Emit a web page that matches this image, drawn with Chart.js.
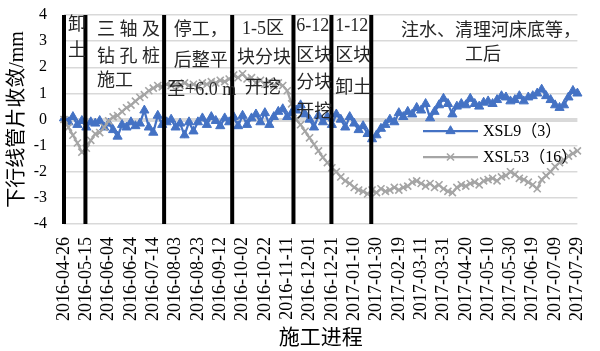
<!DOCTYPE html>
<html>
<head>
<meta charset="utf-8">
<script src="https://cdn.jsdelivr.net/npm/chart.js@4.4.1/dist/chart.umd.min.js"></script>
<style>
  html, body { margin: 0; padding: 0; background: #fff; }
  #wrap { width: 600px; height: 351px; }
</style>
</head>
<body>
<div id="wrap"><canvas id="c" width="600" height="351"></canvas></div>
<script>
// Date labels shown on the x axis, one every 20 records
const tickLabels = [
  '2016-04-26', '2016-05-15', '2016-06-04', '2016-06-24', '2016-07-14', '2016-08-03',
  '2016-08-23', '2016-09-12', '2016-10-02', '2016-10-22', '2016-11-11', '2016-12-01',
  '2016-12-21', '2017-01-10', '2017-01-30', '2017-02-19', '2017-03-11', '2017-03-31',
  '2017-04-20', '2017-05-10', '2017-05-30', '2017-06-19', '2017-07-09', '2017-07-29'
];
const tickStep = 20;   // records between two date labels
const sampleStep = 4;  // records between two plotted readings

// Convergence readings (mm), XSL9 (ring 3)
const xsl9 = [
  0.05, -0.1, 0.1, -0.2, -0.05, -0.3, -0.1, -0.15, -0.05, -0.3,
  -0.15, -0.4, -0.65, -0.2, -0.3, -0.1, -0.25, -0.15, 0.35, -0.3,
  -0.5, 0.15, -0.2, -0.1, 0.0, -0.3, -0.15, -0.6, -0.1, -0.45,
  -0.1, 0.05, -0.2, 0.1, -0.05, -0.25, 0.05, -0.1, 0.1, -0.25,
  0.15, -0.2, 0.05, 0.2, -0.1, 0.25, -0.2, 0.1, 0.3, 0.4,
  0.1, 0.25, 0.35, 0.55, 0.2, 0.0, -0.3, 0.15, -0.1, 0.1,
  -0.2, 0.2, 0.0, -0.3, 0.1, -0.15, -0.4, -0.25, -0.55, -0.75,
  -0.6, -0.35, -0.2, 0.0, -0.1, 0.25, 0.1, 0.3, 0.2, 0.45,
  0.35, 0.6, 0.05, 0.3, 0.55, 0.8, 0.6, 0.2, 0.5, 0.6,
  0.55, 0.8, 0.6, 0.5, 0.65, 0.7, 0.6, 0.75, 0.9, 0.85,
  0.7, 0.75, 0.9, 0.7, 0.85, 0.9, 1.0, 1.15, 0.9, 0.75,
  0.55, 0.45, 0.55, 0.85, 1.1, 1.0
];

// Convergence readings (mm), XSL53 (ring 16)
const xsl53 = [
  0.0, -0.3, -0.6, -0.9, -1.25, -1.1, -0.8, -0.55, -0.5, -0.3,
  -0.05, 0.1, 0.15, 0.3, 0.45, 0.55, 0.7, 0.85, 0.95, 1.1,
  1.2, 1.3, 1.25, 1.35, 1.3, 1.35, 1.3, 1.4, 1.3, 1.35,
  1.25, 1.4, 1.35, 1.45, 1.4, 1.5, 1.45, 1.55, 1.7, 1.6,
  1.75, 1.55, 1.6, 1.4, 1.5, 1.35, 1.45, 1.3, 1.4, 1.3,
  1.1, 0.6, 0.0, -0.2, -0.45, -0.7, -0.95, -1.2, -1.45, -1.65,
  -1.85, -2.0, -2.2, -2.35, -2.45, -2.6, -2.7, -2.75, -2.85, -2.7,
  -2.8, -2.65, -2.75, -2.7, -2.6, -2.7, -2.6, -2.55, -2.4, -2.35,
  -2.45, -2.55, -2.45, -2.6, -2.5, -2.65, -2.75, -2.8, -2.6, -2.5,
  -2.55, -2.45, -2.4, -2.5, -2.35, -2.3, -2.25, -2.35, -2.2, -2.15,
  -2.0, -2.1, -2.25, -2.3, -2.4, -2.5, -2.65, -2.3, -2.15, -2.0,
  -1.8, -1.65, -1.55, -1.4, -1.3, -1.2
];

// Record positions where one construction stage ends and the next begins
const phaseBoundaries = [0, 19.2, 89.7, 150.7, 205.6, 239.6, 275.3];

// Stage descriptions, anchored in axis units (record, mm)
const phaseNotes = [
  { text: '卸', x: 3.5, y: 3.62 },
  { text: '土', x: 3.5, y: 2.62 },
  { text: '三 轴 及', x: 29.6, y: 3.43 },
  { text: '钻 孔 桩', x: 29.6, y: 2.39 },
  { text: '施工', x: 29.6, y: 1.47 },
  { text: '停工，', x: 98.4, y: 3.43 },
  { text: '后整平', x: 98.4, y: 2.24 },
  { text: '至+6.0 m', x: 92.4, y: 1.13 },
  { text: '1-5区', x: 159.4, y: 3.46 },
  { text: '块分块', x: 155, y: 2.35 },
  { text: '开挖', x: 162, y: 1.21 },
  { text: '6-12', x: 208.2, y: 3.58 },
  { text: '区块', x: 208.2, y: 2.43 },
  { text: '分块', x: 208.2, y: 1.40 },
  { text: '开挖', x: 208.2, y: 0.29 },
  { text: '1-12', x: 243, y: 3.58 },
  { text: '区块', x: 243, y: 2.43 },
  { text: '卸土', x: 243, y: 1.21 },
  { text: '注水、清理河床底等，', x: 382.5, y: 3.39, align: 'center' },
  { text: '工后', x: 375.5, y: 2.47, align: 'center' }
];

const serif = "'Liberation Serif', 'DejaVu Serif', 'Noto Sans CJK SC', serif";

const toPoints = vals => vals.map((v, i) => ({ x: i * sampleStep, y: v }));

const boundarySets = phaseBoundaries.map(b => ({
  label: 'stage',
  data: [{ x: b, y: -4 }, { x: b, y: 4 }],
  borderColor: '#000',
  borderWidth: 4,
  borderCapStyle: 'butt',
  pointRadius: 0,
  order: 0,
  clip: false
}));

function drawMarker(ctx, style, x, y, r, color, lw) {
  ctx.save();
  ctx.fillStyle = color;
  ctx.strokeStyle = color;
  ctx.lineWidth = lw;
  ctx.beginPath();
  if (style === 'triangle') {
    for (let k = 0; k < 3; k++) {
      const a = k * 2 * Math.PI / 3;
      const px = x + Math.sin(a) * r, py = y - Math.cos(a) * r;
      k === 0 ? ctx.moveTo(px, py) : ctx.lineTo(px, py);
    }
    ctx.closePath();
    ctx.fill();
    ctx.stroke();
  } else {
    const d = r * Math.SQRT1_2;
    ctx.moveTo(x - d, y - d); ctx.lineTo(x + d, y + d);
    ctx.moveTo(x + d, y - d); ctx.lineTo(x - d, y + d);
    ctx.stroke();
  }
  ctx.restore();
}

const notesPlugin = {
  id: 'phaseNotes',
  afterDatasetsDraw(chart) {
    const { ctx, scales: { x, y } } = chart;
    ctx.save();
    ctx.font = '18px ' + serif;
    ctx.fillStyle = '#262626';
    ctx.textBaseline = 'middle';
    phaseNotes.forEach(n => {
      ctx.textAlign = n.align || 'left';
      ctx.fillText(n.text, x.getPixelForValue(n.x), y.getPixelForValue(n.y));
    });
    ctx.restore();
  }
};

const legendPlugin = {
  id: 'insideLegend',
  afterDraw(chart) {
    const { ctx, chartArea: a } = chart;
    const items = chart.data.datasets.filter(d => d.label !== 'stage');
    items.forEach((d, k) => {
      const yy = a.top + 116 + k * 26;
      const x0 = a.left + 359, x1 = x0 + 55;
      ctx.save();
      ctx.strokeStyle = d.borderColor;
      ctx.lineWidth = d.borderWidth;
      ctx.beginPath();
      ctx.moveTo(x0, yy);
      ctx.lineTo(x1, yy);
      ctx.stroke();
      drawMarker(ctx, d.pointStyle, (x0 + x1) / 2, yy, d.pointRadius, d.borderColor, d.pointBorderWidth);
      ctx.font = '16px ' + serif;
      ctx.fillStyle = '#000';
      ctx.textAlign = 'left';
      ctx.textBaseline = 'middle';
      ctx.fillText(d.label, x1 + 5, yy + 1);
      ctx.restore();
    });
  }
};

function build() {
  new Chart(document.getElementById('c').getContext('2d'), {
    type: 'line',
    data: {
      datasets: [
        {
          label: 'XSL9（3）',
          data: toPoints(xsl9),
          borderColor: '#4472C4',
          backgroundColor: '#4472C4',
          borderWidth: 2.25,
          pointStyle: 'triangle',
          pointRadius: 5.3,
          pointBorderWidth: 1,
          pointBackgroundColor: '#4472C4',
          order: 2,
          clip: false
        },
        {
          label: 'XSL53（16）',
          data: toPoints(xsl53),
          borderColor: '#A5A5A5',
          backgroundColor: '#A5A5A5',
          borderWidth: 2.25,
          pointStyle: 'crossRot',
          pointRadius: 5,
          pointBorderWidth: 1.6,
          order: 1,
          clip: false
        },
        ...boundarySets
      ]
    },
    options: {
      responsive: false,
      animation: false,
      devicePixelRatio: 1,
      layout: { padding: { left: 0, right: 8, top: 15, bottom: 0 } },
      plugins: { legend: { display: false }, tooltip: { enabled: false } },
      scales: {
        x: {
          type: 'linear',
          min: 0,
          max: 460,
          grid: {
            display: true,
            drawOnChartArea: false,
            drawTicks: true,
            tickLength: 12,
            color: 'transparent',
            tickColor: 'transparent'
          },
          border: { display: false },
          afterFit(s) { s.height = 127; },
          afterBuildTicks(s) { s.ticks = tickLabels.map((_, i) => ({ value: i * tickStep })); },
          ticks: {
            autoSkip: false,
            minRotation: 90,
            maxRotation: 90,
            padding: 1,
            color: '#000',
            font: { family: serif, size: 18 },
            callback: v => tickLabels[Math.round(v / tickStep)]
          },
          title: {
            display: true,
            text: '施工进程',
            color: '#000',
            font: { family: serif, size: 21 },
            padding: { top: 0, bottom: 0 }
          }
        },
        y: {
          min: -4,
          max: 4,
          afterFit(s) { s.width = 64; },
          grid: {
            color: '#D9D9D9',
            lineWidth: c => (c.tick && c.tick.value === 0 ? 4 : 1.5),
            drawTicks: true,
            tickLength: 14,
            tickColor: 'transparent'
          },
          border: { display: false },
          ticks: { stepSize: 1, padding: 3, color: '#000', font: { family: serif, size: 16 } },
          title: {
            display: true,
            text: '下行线管片收敛/mm',
            color: '#000',
            font: { family: serif, size: 20 },
            padding: { top: 6, bottom: 0 }
          }
        }
      }
    },
    plugins: [notesPlugin, legendPlugin]
  });
}

if (document.fonts && document.fonts.load) {
  Promise.all([
    document.fonts.load("18px 'Liberation Serif'"),
    document.fonts.load("18px 'Noto Sans CJK SC'", '施工')
  ]).then(build, build);
} else {
  build();
}
</script>
</body>
</html>
